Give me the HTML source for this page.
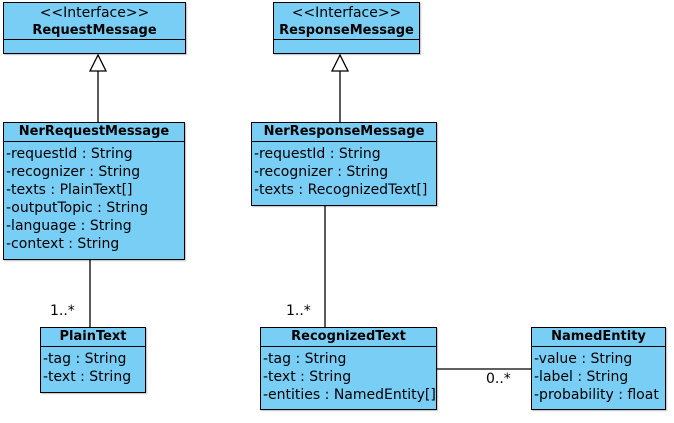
<!DOCTYPE html>
<html><head><style>
body{margin:0;width:674px;height:423px;background:#fff;position:relative;overflow:hidden;font-family:"DejaVu Sans",sans-serif;font-size:13px;color:#000}
.b{position:absolute;background:#79cef5;border:1.5px solid #000;box-sizing:border-box;box-shadow:1px 1px 1px rgba(0,0,0,.25)}
.h{border-bottom:1.5px solid #000;text-align:center;font-weight:bold;line-height:18px;height:19px;box-sizing:border-box;font-size:13px}
.a{padding:3px 0 0 2px;line-height:18px;white-space:nowrap;font-size:14px}
.l{position:absolute;font-size:14px}
.i{text-align:center;line-height:17px;border-bottom:1.5px solid #000;height:37px;box-sizing:border-box;padding-top:2px;font-size:14px}
.i b{font-size:13px}
</style></head><body>
<svg width="674" height="423" style="position:absolute;left:0;top:0">
<g stroke="#000" stroke-width="1.3" fill="#fff">
<line x1="98" y1="71" x2="98" y2="123"/>
<polygon points="98,55 90,71 106,71"/>
<line x1="340" y1="71" x2="340" y2="123"/>
<polygon points="340,55 332,71 348,71"/>
<line x1="90" y1="259" x2="90" y2="327"/>
<line x1="325" y1="205" x2="325" y2="327"/>
<line x1="437" y1="369" x2="531" y2="369"/>
</g></svg>

<div class="b" style="left:3px;top:2px;width:183px;height:52px">
<div class="i">&lt;&lt;Interface&gt;&gt;<br><b>RequestMessage</b></div></div>

<div class="b" style="left:273px;top:2px;width:147px;height:52px">
<div class="i">&lt;&lt;Interface&gt;&gt;<br><b>ResponseMessage</b></div></div>

<div class="b" style="left:3px;top:122px;width:182px;height:138px">
<div class="h">NerRequestMessage</div>
<div class="a">-requestId : String<br>-recognizer : String<br>-texts : PlainText[]<br>-outputTopic : String<br>-language : String<br>-context : String</div></div>

<div class="b" style="left:251px;top:122px;width:186px;height:84px">
<div class="h">NerResponseMessage</div>
<div class="a">-requestId : String<br>-recognizer : String<br>-texts : RecognizedText[]</div></div>

<div class="b" style="left:40px;top:327px;width:106px;height:66px">
<div class="h">PlainText</div>
<div class="a">-tag : String<br>-text : String</div></div>

<div class="b" style="left:260px;top:327px;width:177px;height:83px">
<div class="h">RecognizedText</div>
<div class="a">-tag : String<br>-text : String<br>-entities : NamedEntity[]</div></div>

<div class="b" style="left:531px;top:327px;width:135px;height:83px">
<div class="h">NamedEntity</div>
<div class="a">-value : String<br>-label : String<br>-probability : float</div></div>

<div class="l" style="left:50px;top:303px">1..*</div>
<div class="l" style="left:286px;top:303px">1..*</div>
<div class="l" style="left:486px;top:371px">0..*</div>
</body></html>
